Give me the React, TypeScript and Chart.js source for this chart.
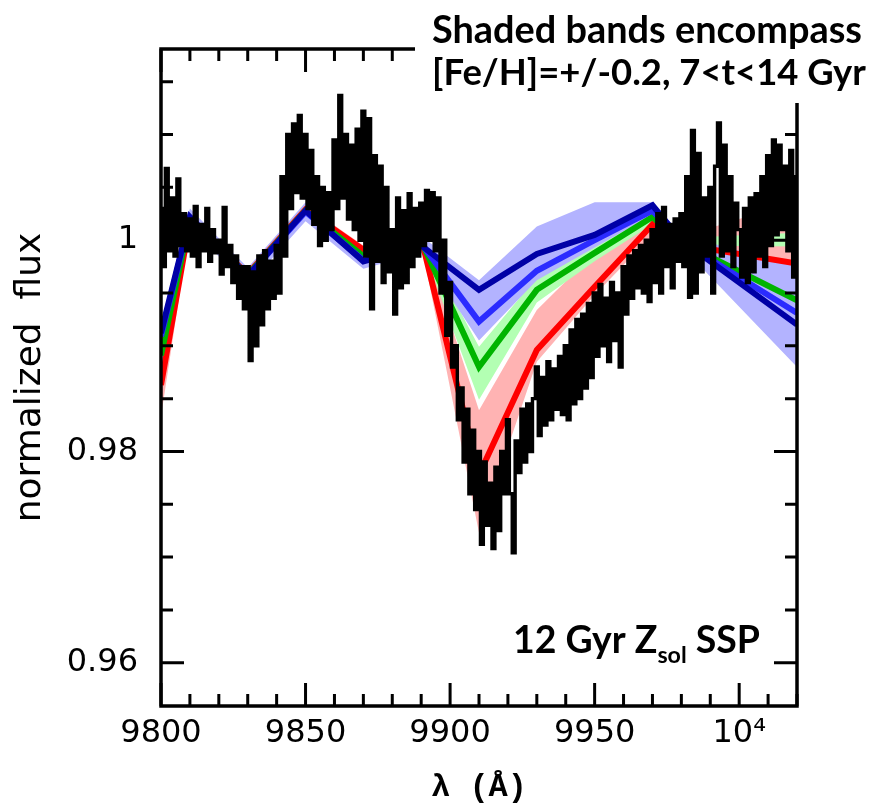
import React, { useEffect, useRef } from 'react';
import { Chart, registerables } from 'chart.js';

Chart.register(...registerables);

// ---------------- data ----------------
const LAMBDA_START = 9800;
// observed spectrum, one value per Angstrom from 9800 to 10020
const FLUX = [
  1.0030, 0.9975, 1.0068, 0.9990, 1.0040, 0.9985, 1.0058, 0.9995, 1.0025, 0.9990,
  1.0020, 0.9985, 1.0032, 0.9975, 1.0015, 0.9990, 1.0030, 0.9980, 1.0010, 0.9988,
  1.0000, 0.9968, 1.0031, 0.9975, 0.9995, 0.9960, 0.9985, 0.9945, 0.9975, 0.9935,
  0.9975, 0.9886, 0.9970, 0.9900, 0.9985, 0.9920, 0.9990, 0.9935, 0.9980, 0.9945,
  0.9995, 0.9950, 1.0060, 0.9985, 1.0100, 1.0030, 1.0110, 1.0045, 1.0118, 1.0040,
  1.0100, 1.0030, 1.0085, 1.0015, 1.0060, 0.9995, 1.0050, 1.0000, 1.0045, 1.0010,
  1.0095, 1.0030, 1.0137, 1.0040, 1.0100, 1.0020, 1.0090, 1.0010, 1.0105, 1.0000,
  1.0122, 0.9985, 1.0115, 0.9935, 1.0080, 0.9980, 1.0070, 0.9960, 1.0050, 0.9970,
  1.0010, 0.9930, 1.0040, 0.9955, 1.0028, 0.9960, 1.0044, 0.9975, 1.0030, 0.9985,
  1.0035, 0.9995, 1.0047, 1.0000, 1.0045, 0.9990, 1.0040, 0.9950, 1.0000, 0.9910,
  0.9960, 0.9880, 0.9900, 0.9830, 0.9860, 0.9790, 0.9840, 0.9760, 0.9820, 0.9745,
  0.9800, 0.9712, 0.9790, 0.9730, 0.9770, 0.9708, 0.9785, 0.9725, 0.9800, 0.9760,
  0.9830, 0.9760, 0.9704, 0.9810, 0.9780, 0.9840, 0.9790, 0.9845, 0.9800, 0.9850,
  0.9880, 0.9815, 0.9870, 0.9825, 0.9885, 0.9830, 0.9878, 0.9840, 0.9890, 0.9835,
  0.9900, 0.9830, 0.9915, 0.9845, 0.9925, 0.9850, 0.9930, 0.9860, 0.9940, 0.9870,
  0.9950, 0.9890, 0.9958, 0.9900, 0.9945, 0.9885, 0.9960, 0.9905, 0.9950, 0.9880,
  0.9975, 0.9930, 0.9985, 0.9945, 0.9990, 0.9955, 0.9995, 0.9950, 1.0000, 0.9942,
  1.0010, 0.9960, 1.0025, 0.9950, 1.0031, 0.9975, 1.0015, 0.9955, 1.0020, 0.9980,
  1.0025, 0.9975, 1.0060, 0.9946, 1.0104, 0.9950, 1.0082, 0.9970, 1.0040, 0.9985,
  1.0050, 0.9950, 1.0070, 1.0111, 0.9985, 1.0090, 0.9990, 1.0060, 0.9975, 1.0035,
  1.0010, 0.9965, 1.0030, 0.9960, 1.0040, 0.9970, 1.0044, 0.9985, 1.0060, 0.9975,
  1.0080, 0.9995, 1.0095, 1.0005, 1.0090, 1.0010, 1.0070, 0.9990, 1.0085, 0.9965, 1.0060,
];

// model knots
const MODEL_LAMBDA = [9800, 9810, 9830, 9850, 9870, 9890, 9910, 9930, 9950, 9970, 9980, 10020];
const MODEL_DARK_BLUE = [0.9912, 1.0022, 0.9966, 1.0028, 0.9980, 0.9995, 0.9953, 0.9987, 1.0005, 1.0033, 1.0000, 0.9920];
const MODEL_BLUE = [0.9909, 1.0021, 0.9966, 1.0027, 0.9981, 0.9997, 0.9923, 0.9971, 1.0000, 1.0028, 0.9999, 0.9931];
const MODEL_GREEN = [0.9891, 1.0020, 0.9967, 1.0028, 0.9985, 0.9999, 0.9880, 0.9953, 0.9988, 1.0022, 0.9998, 0.9943];
const MODEL_RED = [0.9863, 1.0018, 0.9968, 1.0029, 0.9991, 1.0002, 0.9778, 0.9896, 0.9956, 1.0015, 0.9996, 0.9978];

const BLUE_BAND_HI = [0.9922, 1.0030, 0.9974, 1.0036, 0.9989, 1.0004, 0.9962, 1.0013, 1.0036, 1.0036, 1.0005, 0.9975];
const BLUE_BAND_LO = [0.9898, 1.0012, 0.9957, 1.0018, 0.9973, 0.9988, 0.9905, 0.9962, 0.9993, 1.0024, 0.9994, 0.9880];
const GREEN_BAND_HI = [0.9897, 1.0023, 0.9970, 1.0031, 0.9988, 1.0002, 0.9899, 0.9965, 0.9995, 1.0025, 1.0002, 1.0007];
const GREEN_BAND_LO = [0.9885, 1.0017, 0.9964, 1.0025, 0.9982, 0.9996, 0.9849, 0.9941, 0.9980, 1.0015, 0.9995, 0.9994];
const PINK_BAND_HI = [0.9875, 1.0022, 0.9972, 1.0033, 0.9995, 1.0006, 0.9839, 0.9934, 0.9988, 1.0022, 1.0003, 1.0037];
const PINK_BAND_LO = [0.9833, 1.0013, 0.9962, 1.0024, 0.9986, 0.9997, 0.9723, 0.9885, 0.9948, 1.0005, 0.9993, 0.9972];

const X_TICKS = [9800, 9850, 9900, 9950, 10000];
const X_TICK_LABELS = ['9800', '9850', '9900', '9950', '10\u2074'];
const Y_TICKS = [0.96, 0.98, 1];
const Y_TICK_LABELS = ['0.96', '0.98', '1'];

const X_MIN = 9800;
const X_MAX = 10020;
const Y_MIN = 0.9559;
const Y_MAX = 1.0181;

const TITLE_LINE_1 = 'Shaded bands encompass';
const TITLE_LINE_2 = '[Fe/H]=+/-0.2, 7<t<14 Gyr';
const INSET_MAIN = '12 Gyr Z';
const INSET_SUB = 'sol';
const INSET_END = ' SSP';

// ---------------- helpers ----------------
const W = 879;
const H = 808;

const knots = (vals: number[]) => MODEL_LAMBDA.map((x, i) => ({ x, y: vals[i] }));

const framePlugin = {
  id: 'frameAndText',
  afterDraw(chart: any) {
    const { ctx, chartArea, scales } = chart;
    const { left, right, top, bottom } = chartArea;
    const xs = scales.x;
    const ys = scales.y;
    ctx.save();
    ctx.strokeStyle = '#000';
    ctx.lineCap = 'butt';
    // ticks
    ctx.lineWidth = 3;
    for (let v = X_MIN; v <= X_MAX; v += 10) {
      const px = xs.getPixelForValue(v);
      const len = v % 50 === 0 ? 23 : 12;
      ctx.beginPath();
      ctx.moveTo(px, bottom);
      ctx.lineTo(px, bottom - len);
      ctx.moveTo(px, top);
      ctx.lineTo(px, top + len);
      ctx.stroke();
    }
    for (let k = 192; k <= 203; k++) {
      const v = k * 0.005;
      if (v < Y_MIN || v > Y_MAX) continue;
      const py = ys.getPixelForValue(v);
      const len = k % 4 === 0 ? 23 : 12;
      ctx.beginPath();
      ctx.moveTo(left, py);
      ctx.lineTo(left + len, py);
      ctx.moveTo(right, py);
      ctx.lineTo(right - len, py);
      ctx.stroke();
    }
    // frame
    ctx.lineWidth = 3.5;
    ctx.strokeRect(left, top, right - left, bottom - top);

    // white box behind the note
    ctx.fillStyle = '#fff';
    ctx.fillRect(415, 0, W - 415, 103);

    // note text
    ctx.fillStyle = '#000';
    ctx.textBaseline = 'alphabetic';
    ctx.textAlign = 'left';
    const fam = 'Lato, "Open Sans", sans-serif';
    const fit = (text: string, target: number) => {
      ctx.font = `bold 100px ${fam}`;
      return (100 * target) / ctx.measureText(text).width;
    };
    const s1 = fit(TITLE_LINE_1, 430);
    const s2 = fit(TITLE_LINE_2, 434);
    ctx.font = `bold ${s1}px ${fam}`;
    ctx.fillText(TITLE_LINE_1, 432, 43);
    ctx.font = `bold ${s2}px ${fam}`;
    ctx.fillText(TITLE_LINE_2, 432, 85);

    // inset label
    ctx.font = `bold 100px ${fam}`;
    const a = ctx.measureText(INSET_MAIN).width;
    const c = ctx.measureText(INSET_END).width;
    ctx.font = `bold 62px ${fam}`;
    const b = ctx.measureText(INSET_SUB).width;
    const s3 = (100 * 247) / (a + b + c);
    const k3 = s3 / 100;
    let x0 = 513;
    ctx.font = `bold ${s3}px ${fam}`;
    ctx.fillText(INSET_MAIN, x0, 653);
    x0 += a * k3;
    ctx.font = `bold ${0.62 * s3}px ${fam}`;
    ctx.fillText(INSET_SUB, x0, 663);
    x0 += b * k3;
    ctx.font = `bold ${s3}px ${fam}`;
    ctx.fillText(INSET_END, x0, 653);
    ctx.restore();
  },
};

export default function App() {
  const ref = useRef<HTMLCanvasElement | null>(null);

  useEffect(() => {
    const canvas = ref.current;
    if (!canvas) return;
    const spectrum = FLUX.map((y, i) => ({ x: LAMBDA_START + i, y }));
    const line = (data: any, color: string, width: number) => ({
      data,
      borderColor: color,
      backgroundColor: color,
      borderWidth: width,
      pointRadius: 0,
      tension: 0,
      fill: false,
    });
    const bandHi = (data: any, color: string) => ({
      data,
      borderWidth: 0,
      borderColor: 'rgba(0,0,0,0)',
      backgroundColor: color,
      pointRadius: 0,
      tension: 0,
      fill: '+1',
    });
    const bandLo = (data: any) => ({
      data,
      borderWidth: 0,
      borderColor: 'rgba(0,0,0,0)',
      pointRadius: 0,
      tension: 0,
      fill: false,
    });

    const chart = new Chart(canvas, {
      type: 'line',
      data: {
        datasets: [
          { ...line(spectrum, '#000000', 3.4), stepped: 'middle' },
          line(knots(MODEL_DARK_BLUE), '#0000a6', 6),
          line(knots(MODEL_BLUE), '#2b2bff', 6),
          line(knots(MODEL_GREEN), '#00b400', 6),
          line(knots(MODEL_RED), '#ff0000', 6),
          bandHi(knots(BLUE_BAND_HI), '#b3b3ff'),
          bandLo(knots(BLUE_BAND_LO)),
          bandHi(knots(GREEN_BAND_HI), '#b3ffb3'),
          bandLo(knots(GREEN_BAND_LO)),
          bandHi(knots(PINK_BAND_HI), '#ffb3b3'),
          bandLo(knots(PINK_BAND_LO)),
        ] as any,
      },
      options: {
        responsive: false,
        animation: false,
        events: [],
        layout: { padding: { left: 0, right: W - 797, top: 49, bottom: 0 } },
        plugins: {
          legend: { display: false },
          tooltip: { enabled: false },
          filler: { propagate: false },
        },
        scales: {
          x: {
            type: 'linear',
            min: X_MIN,
            max: X_MAX,
            afterFit: (s: any) => {
              s.height = H - 706;
            },
            afterBuildTicks: (s: any) => {
              s.ticks = X_TICKS.map((v) => ({ value: v }));
            },
            grid: { display: false, drawTicks: false },
            border: { display: false },
            ticks: {
              autoSkip: false,
              maxRotation: 0,
              padding: 12,
              color: '#000',
              font: { family: '"DejaVu Sans"', size: 32, lineHeight: 1 },
              callback: (v: any) => {
                const i = X_TICKS.indexOf(Number(v));
                return i >= 0 ? X_TICK_LABELS[i] : '';
              },
            },
            title: {
              display: true,
              text: '\u03bb (\u00c5)',
              color: '#000',
              font: { family: '"Liberation Mono"', size: 32, weight: 'bold', lineHeight: 1 },
              padding: { top: 0, bottom: 4 },
            },
          },
          y: {
            type: 'linear',
            min: Y_MIN,
            max: Y_MAX,
            afterFit: (s: any) => {
              s.width = 161;
            },
            afterBuildTicks: (s: any) => {
              s.ticks = Y_TICKS.map((v) => ({ value: v }));
            },
            grid: { display: false, drawTicks: false },
            border: { display: false },
            ticks: {
              autoSkip: false,
              padding: 23,
              color: '#000',
              font: { family: '"DejaVu Sans"', size: 32, lineHeight: 1 },
              callback: (v: any) => {
                const i = Y_TICKS.findIndex((t) => Math.abs(t - Number(v)) < 1e-9);
                return i >= 0 ? Y_TICK_LABELS[i] : '';
              },
            },
            title: {
              display: true,
              text: 'normalized  flux',
              color: '#000',
              font: { family: '"DejaVu Sans"', size: 36, lineHeight: 1 },
              padding: { top: 13, bottom: 0 },
            },
          },
        },
      } as any,
      plugins: [framePlugin],
    });
    return () => chart.destroy();
  }, []);

  return (
    <div style={{ position: 'absolute', left: 0, top: 0, width: W, height: H, background: '#fff' }}>
      <canvas ref={ref} width={W} height={H} style={{ display: 'block', width: W, height: H }} />
    </div>
  );
}
